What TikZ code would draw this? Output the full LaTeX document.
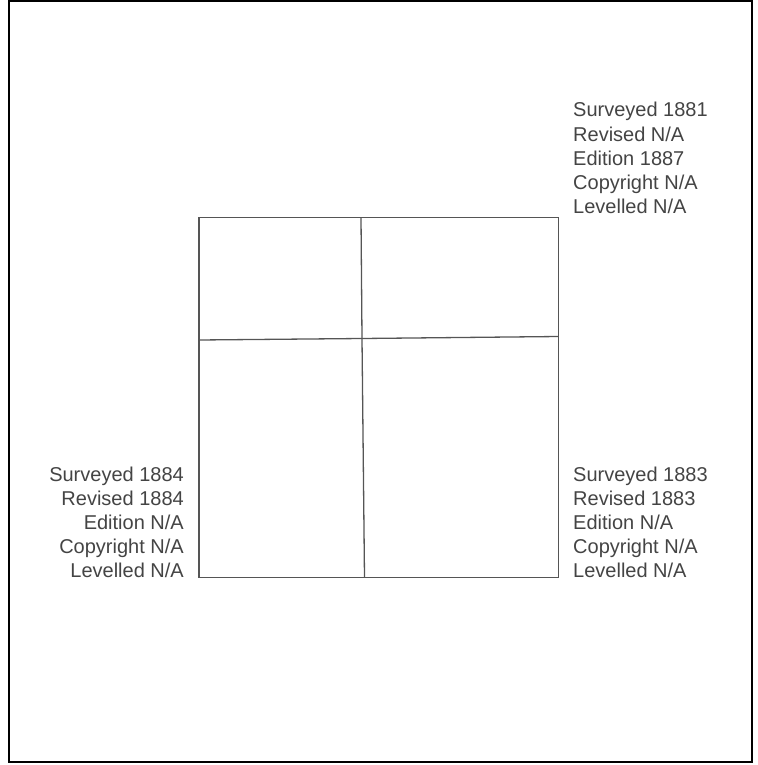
\documentclass[tikz,border=0pt]{standalone}
\usepackage{fontspec}
\setmainfont{Liberation Sans}
\definecolor{txt}{HTML}{444444}
\definecolor{ln}{HTML}{555555}
\tikzset{
  lbl/.style={inner sep=0pt, text=txt, font=\fontsize{20}{24}\selectfont},
  lblL/.style={lbl, anchor=base west},
  lblR/.style={lbl, anchor=base east},
  gridline/.style={draw=ln, line width=1.3pt},
}
\begin{document}
\begin{tikzpicture}[x=1pt,y=-1pt]
\useasboundingbox (0,0) rectangle (757,765);
\draw[line width=2pt, black] (8.5,1.5) rectangle (751.5,761.5);
% grid corners
\coordinate (tl) at (199,217.5);
\coordinate (tr) at (558.5,217.5);
\coordinate (bl) at (199,577.5);
\coordinate (br) at (558.5,577.5);
\coordinate (vt) at (361,217.5);
\coordinate (vm) at (362,338.5);
\coordinate (vb) at (364.5,577.5);
\coordinate (hl) at (199,340);
\coordinate (hr) at (558.5,336.5);
\draw[gridline] (tl) -- (tr) -- (br) -- (bl) -- cycle;
\draw[gridline] (vt) -- (vm) -- (vb);
\draw[gridline] (hl) -- (vm) -- (hr);
% top right
\node[lblL] (a1) at (573,117) {Surveyed 1881};
\node[lblL] (a2) at (573,141) {Revised N/A};
\node[lblL] (a3) at (573,165) {Edition 1887};
\node[lblL] (a4) at (573,189) {Copyright N/A};
\node[lblL] (a5) at (573,213) {Levelled N/A};
% bottom right
\node[lblL] (b1) at (573,481) {Surveyed 1883};
\node[lblL] (b2) at (573,505) {Revised 1883};
\node[lblL] (b3) at (573,529) {Edition N/A};
\node[lblL] (b4) at (573,553) {Copyright N/A};
\node[lblL] (b5) at (573,577) {Levelled N/A};
% bottom left
\node[lblR] (c1) at (184,481) {Surveyed 1884};
\node[lblR] (c2) at (184,505) {Revised 1884};
\node[lblR] (c3) at (184,529) {Edition N/A};
\node[lblR] (c4) at (184,553) {Copyright N/A};
\node[lblR] (c5) at (184,577) {Levelled N/A};
\end{tikzpicture}
\end{document}
